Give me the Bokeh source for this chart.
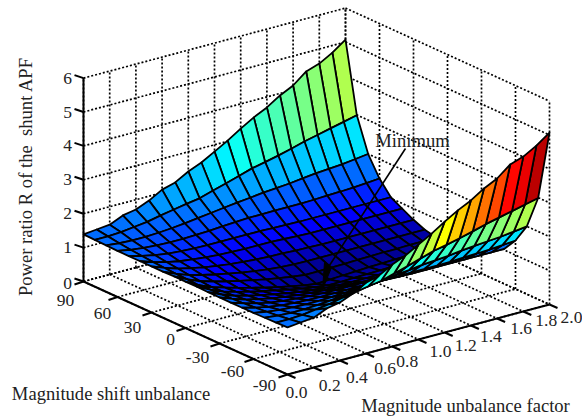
from bokeh.plotting import figure
from bokeh.embed import file_html
from bokeh.resources import INLINE
from bokeh.core.properties import value

x_vals = [i / 10 for i in range(21)]
y_rows = [90, 80, 70, 60, 50, 40, 30, 20, 10, 0, -10, -20, -30, -40, -50, -60, -70, -80, -90]

z_y90 = [1.39,1.43,1.47,1.64,1.71,1.87,2.09,2.20,2.42,2.58,2.80,3.02,3.27,3.50,3.69,3.94,4.13,4.44,4.57,4.79,5.07]
z_y80 = [1.38,1.38,1.40,1.45,1.50,1.58,1.65,1.72,1.78,1.90,2.01,2.13,2.25,2.33,2.42,2.52,2.63,2.72,2.81,2.90,2.99]
z_y70 = [1.37,1.33,1.31,1.31,1.33,1.36,1.40,1.45,1.50,1.55,1.60,1.64,1.69,1.72,1.75,1.80,1.84,1.87,1.90,1.95,2.00]
z_y60 = [1.36,1.29,1.24,1.21,1.20,1.20,1.21,1.23,1.26,1.28,1.30,1.30,1.31,1.31,1.31,1.32,1.34,1.35,1.37,1.40,1.43]
z_y50 = [1.36,1.26,1.18,1.12,1.09,1.07,1.06,1.06,1.06,1.06,1.06,1.05,1.04,1.03,1.03,1.03,1.03,1.03,1.03,1.03,1.03]
z_y40 = [1.36,1.23,1.13,1.05,1.00,0.96,0.93,0.91,0.90,0.90,0.90,0.88,0.86,0.85,0.85,0.85,0.85,0.85,0.85,0.85,0.85]
z_y30 = [1.36,1.21,1.09,1.00,0.92,0.86,0.81,0.77,0.74,0.72,0.71,0.69,0.68,0.67,0.67,0.67,0.67,0.67,0.67,0.67,0.67]
z_y20 = [1.36,1.19,1.05,0.95,0.86,0.78,0.71,0.65,0.60,0.56,0.54,0.53,0.53,0.53,0.53,0.53,0.53,0.53,0.53,0.53,0.53]
z_y10 = [1.37,1.18,1.02,0.91,0.81,0.72,0.64,0.56,0.49,0.43,0.38,0.38,0.39,0.40,0.41,0.42,0.43,0.43,0.44,0.44,0.45]
z_y0 = [1.37,1.16,1.00,0.88,0.77,0.67,0.57,0.48,0.40,0.33,0.27,0.29,0.31,0.33,0.35,0.36,0.37,0.38,0.39,0.40,0.40]
half = [z_y90, z_y80, z_y70, z_y60, z_y50, z_y40, z_y30, z_y20, z_y10]
z_rows = half + [z_y0] + half[::-1]

x_ticks = [0.0, 0.2, 0.4, 0.6, 0.8, 1.0, 1.2, 1.4, 1.6, 1.8, 2.0]
x_tick_labels = ["0.0", "0.2", "0.4", "0.6", "0.8", "1.0", "1.2", "1.4", "1.6", "1.8", "2.0"]
y_ticks = [90, 60, 30, 0, -30, -60, -90]
y_tick_labels = ["90", "60", "30", "0", "-30", "-60", "-90"]
z_ticks = [0, 1, 2, 3, 4, 5, 6]
z_tick_labels = ["0", "1", "2", "3", "4", "5", "6"]

SERIF = value("Liberation Serif")


def proj(x, y, z):
    """Orthographic view, in page pixels, of a data point."""
    u, v = x / 2.0, (90.0 - y) / 180.0
    return (83.0 + 262.0 * u + 204.0 * v, 281.0 - 70.0 * u + 93.0 * v - 33.9 * z)


def jet(t):
    t = max(0.0, min(1.0, t))
    r = min(max(min(4 * t - 1.5, -4 * t + 4.5), 0), 1)
    g = min(max(min(4 * t - 0.5, -4 * t + 3.5), 0), 1)
    b = min(max(min(4 * t + 0.5, -4 * t + 2.5), 0), 1)
    return "#%02x%02x%02x" % (round(r * 255), round(g * 255), round(b * 255))


p = figure(width=582, height=417, x_range=(0, 582), y_range=(417, 0),
           output_backend="svg", toolbar_location=None, min_border=0)
p.axis.visible = False
p.grid.visible = False
p.outline_line_color = None
p.background_fill_color = "white"


def seg(a, b, **kw):
    p.line([a[0], b[0]], [a[1], b[1]], **kw)


# dotted grid on the floor and the two back walls
DOT = dict(line_color="black", line_width=1.7, line_dash="2 2")
for xt in x_ticks:
    seg(proj(xt, 90, 0), proj(xt, -90, 0), **DOT)
    seg(proj(xt, 90, 0), proj(xt, 90, 6), **DOT)
for yt in y_ticks:
    seg(proj(0, yt, 0), proj(2, yt, 0), **DOT)
    seg(proj(2, yt, 0), proj(2, yt, 6), **DOT)
for zt in z_ticks:
    seg(proj(0, 90, zt), proj(2, 90, zt), **DOT)
    seg(proj(2, 90, zt), proj(2, -90, zt), **DOT)

# surface, painted from the far cells to the near ones
zmin = min(min(r) for r in z_rows)
zmax = max(max(r) for r in z_rows)
cells = []
for j in range(len(y_rows) - 1):
    for i in range(len(x_vals) - 1):
        corners = [(i, j), (i + 1, j), (i + 1, j + 1), (i, j + 1)]
        pts = [proj(x_vals[a], y_rows[b], z_rows[b][a]) for a, b in corners]
        floor_y = proj((x_vals[i] + x_vals[i + 1]) / 2, (y_rows[j] + y_rows[j + 1]) / 2, 0)[1]
        # colour of the cell comes from its vertex of lowest index in ascending y
        c = z_rows[j + 1][i]
        cells.append((floor_y, pts, jet((c - zmin) / (zmax - zmin))))
cells.sort(key=lambda t: t[0])
for _, pts, col in cells:
    p.patch([q[0] for q in pts], [q[1] for q in pts], fill_color=col,
            line_color="black", line_width=1.8, line_join="round")

# solid axes
AX = dict(line_color="black", line_width=2)
seg(proj(0, 90, 0), proj(0, 90, 6), **AX)
seg(proj(0, 90, 0), proj(0, -90, 0), **AX)
seg(proj(0, -90, 0), proj(2, -90, 0), **AX)
for zt in z_ticks:
    a = proj(0, 90, zt)
    seg(a, (a[0] - 9, a[1] - 3), **AX)
for yt in y_ticks:
    a = proj(0, yt, 0)
    seg(a, (a[0] - 9, a[1] + 3), **AX)
for xt in x_ticks:
    a = proj(xt, -90, 0)
    seg(a, (a[0] + 8, a[1] + 3.5), **AX)

# tick labels
TXT = dict(text_font=SERIF, text_color="#222222", text_align="center", text_baseline="middle")
z_off = [(-16, 2), (-16, 0), (-16, 0), (-16, 0), (-16, 0), (-16, 0), (-16, 0)]
for zt, s, o in zip(z_ticks, z_tick_labels, z_off):
    a = proj(0, 90, zt)
    p.text([a[0] + o[0]], [a[1] + o[1]], text=[s], text_font_size="17.5px", **TXT)
y_off = [(-18, 19), (-15, 16.5), (-19, 15), (-15, 11.5), (-22, 14), (-21, 12.5), (-23, 11)]
for yt, s, o in zip(y_ticks, y_tick_labels, y_off):
    a = proj(0, yt, 0)
    p.text([a[0] + o[0]], [a[1] + o[1]], text=[s], text_font_size="17.5px", **TXT)
x_off = [(9, 18), (16, 17.5), (17, 17), (19, 15), (15, 15), (22, 12), (21, 13), (20, 11), (24, 10), (23, 9), (22, 13)]
for xt, s, o in zip(x_ticks, x_tick_labels, x_off):
    a = proj(xt, -90, 0)
    p.text([a[0] + o[0]], [a[1] + o[1]], text=[s], text_font_size="17.5px", **TXT)

# axis titles and the annotation
p.text([110.5], [393], text=["Magnitude shift unbalance"], text_font_size="18.6px", **TXT)
p.text([465], [405], text=["Magnitude unbalance factor"], text_font_size="18.6px", **TXT)
p.text([25], [176], text=["Power ratio R of the \u00a0shunt APF"], angle=[1.5708],
       text_font_size="18.6px", **TXT)
p.text([412], [140], text=["Minimum"], text_font_size="18.6px", **TXT)

seg((405, 148), (327, 268), line_color="black", line_width=1.6)
p.patch([324, 331, 322], [262, 267, 289], fill_color="black", line_color="black")

open("out.html", "w").write(file_html(p, INLINE))
